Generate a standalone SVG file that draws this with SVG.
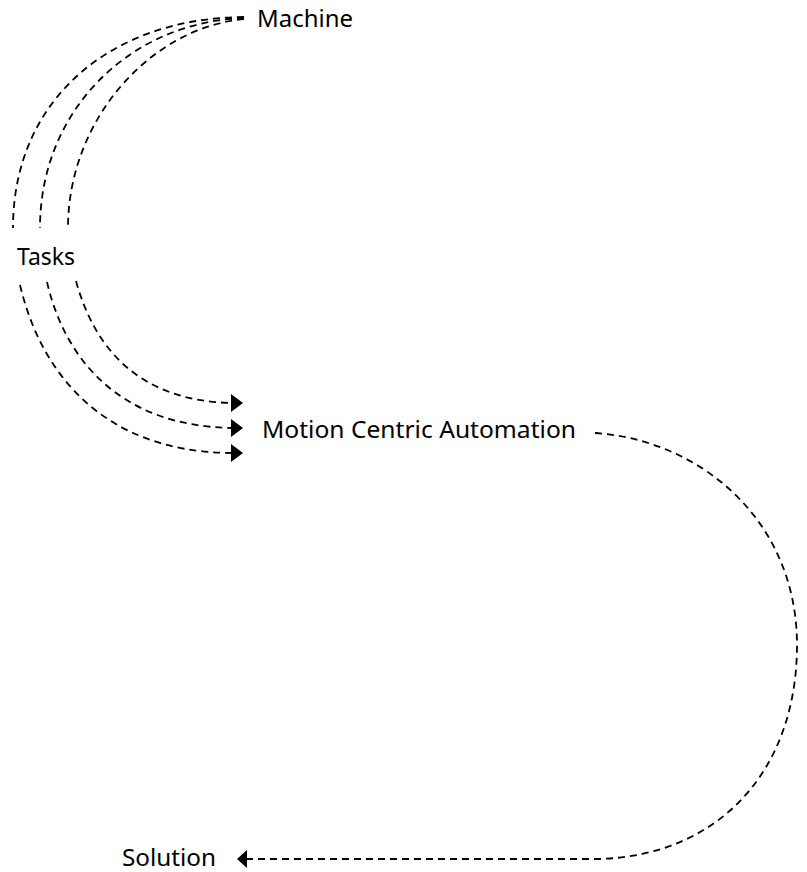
<svg xmlns="http://www.w3.org/2000/svg" width="807" height="872" viewBox="0 0 807 872">
<style>
.lbl{font-family:"Noto Sans","Open Sans","Liberation Sans",sans-serif;font-size:23px;fill:#000}
.c{fill:none;stroke:#000;stroke-width:1.8;stroke-dasharray:7 5}
.ah{fill:#000;stroke:none}
</style>
<rect width="807" height="872" fill="#fff"/>
<g id="connectors">
<path class="c" d="M244,17 C110,18 13,100 13,228"/>
<path class="c" d="M244,18 C130,22 40,110 40,228"/>
<path class="c" d="M244,19 C150,28 68,120 68,228"/>
<path class="c" d="M20,285 C40,370 100,452 232,453"/>
<path class="c" d="M47,282 C65,360 120,426 232,428"/>
<path class="c" d="M76,281 C95,350 140,401 232,403"/>
<path class="ah" d="M231,394 L243,403 L231,412 Z"/>
<path class="ah" d="M231,419 L243,428 L231,437 Z"/>
<path class="ah" d="M231,444 L243,453 L231,462 Z"/>
<path class="c" d="M595,433 C700,440 797,520 797,645 C797,770 720,855 600,859 L247,859"/>
<path class="ah" d="M247,850 L237,859 L247,868 Z"/>
</g>
<g id="machine"><text class="lbl" x="257" y="27" textLength="96" lengthAdjust="spacingAndGlyphs">Machine</text></g>
<g id="tasks"><text class="lbl" x="17" y="265" textLength="58" lengthAdjust="spacingAndGlyphs">Tasks</text></g>
<g id="mca"><text class="lbl" x="262" y="438" textLength="314" lengthAdjust="spacingAndGlyphs">Motion Centric Automation</text></g>
<g id="solution"><text class="lbl" x="122" y="866" textLength="94" lengthAdjust="spacingAndGlyphs">Solution</text></g>
</svg>
